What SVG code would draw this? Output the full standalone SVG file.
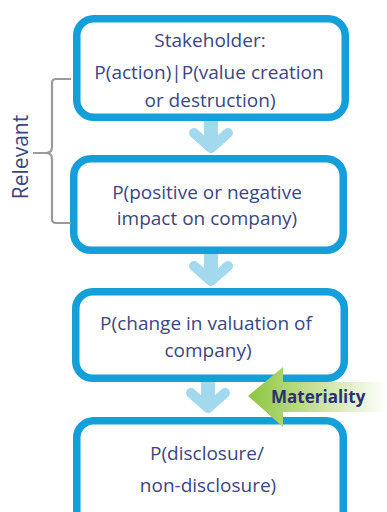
<svg xmlns="http://www.w3.org/2000/svg" width="387" height="512" viewBox="0 0 387 512">
  <style>
    .box { fill: #ffffff; stroke: #149fdb; stroke-width: 7.5; }
    .label { font-family: "Open Sans", "Liberation Sans", sans-serif; font-size: 19px; fill: #3a4682; text-anchor: middle; }
    .stem { stroke: #a2d9ef; stroke-width: 14; fill: none; }
    .chev { stroke: #a2d9ef; stroke-width: 10; fill: none; stroke-linecap: round; stroke-linejoin: round; }
    .brace { stroke: #9a9a9a; stroke-width: 2.2; fill: none; }
  </style>
  <defs>
    <linearGradient id="matGrad" x1="0" y1="0" x2="1" y2="0" gradientUnits="objectBoundingBox">
      <stop offset="0" stop-color="#8cc63f"/>
      <stop offset="0.45" stop-color="#c3de93"/>
      <stop offset="1" stop-color="#ffffff"/>
    </linearGradient>
  </defs>

  <!-- flow connectors (down chevrons) -->
  <g id="connectors">
    <g id="arrow-1-2">
      <line class="stem" x1="211" y1="121" x2="211" y2="145"/>
      <polyline class="chev" points="194,133 211,148 228,133"/>
    </g>
    <g id="arrow-2-3">
      <line class="stem" x1="211" y1="254" x2="211" y2="278"/>
      <polyline class="chev" points="194,266 211,281 228,266"/>
    </g>
    <g id="arrow-3-4">
      <line class="stem" x1="208" y1="381" x2="208" y2="405"/>
      <polyline class="chev" points="191,393 208,408 225,393"/>
    </g>
  </g>

  <g id="node-stakeholder">
    <rect class="box" x="76.75" y="18.75" width="268.5" height="98.5" rx="17"/>
    <text class="label" x="210" y="47">Stakeholder:</text>
    <text class="label" x="209" y="79">P(action)|P(value creation</text>
    <text class="label" x="210" y="107">or destruction)</text>
  </g>

  <g id="node-impact">
    <rect class="box" x="73.75" y="158.75" width="269.5" height="91.5" rx="17"/>
    <text class="label" x="207" y="199">P(positive or negative</text>
    <text class="label" x="207" y="225">impact on company)</text>
  </g>

  <g id="node-valuation">
    <rect class="box" x="75.75" y="291.75" width="268.5" height="86.5" rx="17"/>
    <text class="label" x="206" y="330">P(change in valuation of</text>
    <text class="label" x="208" y="357">company)</text>
  </g>

  <g id="node-disclosure">
    <rect class="box" x="76.75" y="420.75" width="266.5" height="120" rx="17"/>
    <text class="label" x="207" y="460">P(disclosure/</text>
    <text class="label" x="208" y="492">non-disclosure)</text>
  </g>

  <g id="materiality">
    <path d="M248,396 L283,367 L283,382 L387,382 L387,412 L283,412 L283,427 Z" fill="url(#matGrad)"/>
    <text x="271" y="403" font-family="'Open Sans', 'Liberation Sans', sans-serif" font-size="17" font-weight="bold" fill="#2b3170">Materiality</text>
  </g>

  <g id="relevant">
    <path class="brace" d="M71,79 L56,79 Q52,79 52,83 L52,147 Q52,153 46,153 L33,153 M46,153 Q52,153 52,159 L52,219 Q52,223 56,223 L71,223"/>
    <text transform="translate(28,157) rotate(-90)" font-family="'Open Sans', 'Liberation Sans', sans-serif" font-size="21" fill="#3a4682" text-anchor="middle">Relevant</text>
  </g>
</svg>
